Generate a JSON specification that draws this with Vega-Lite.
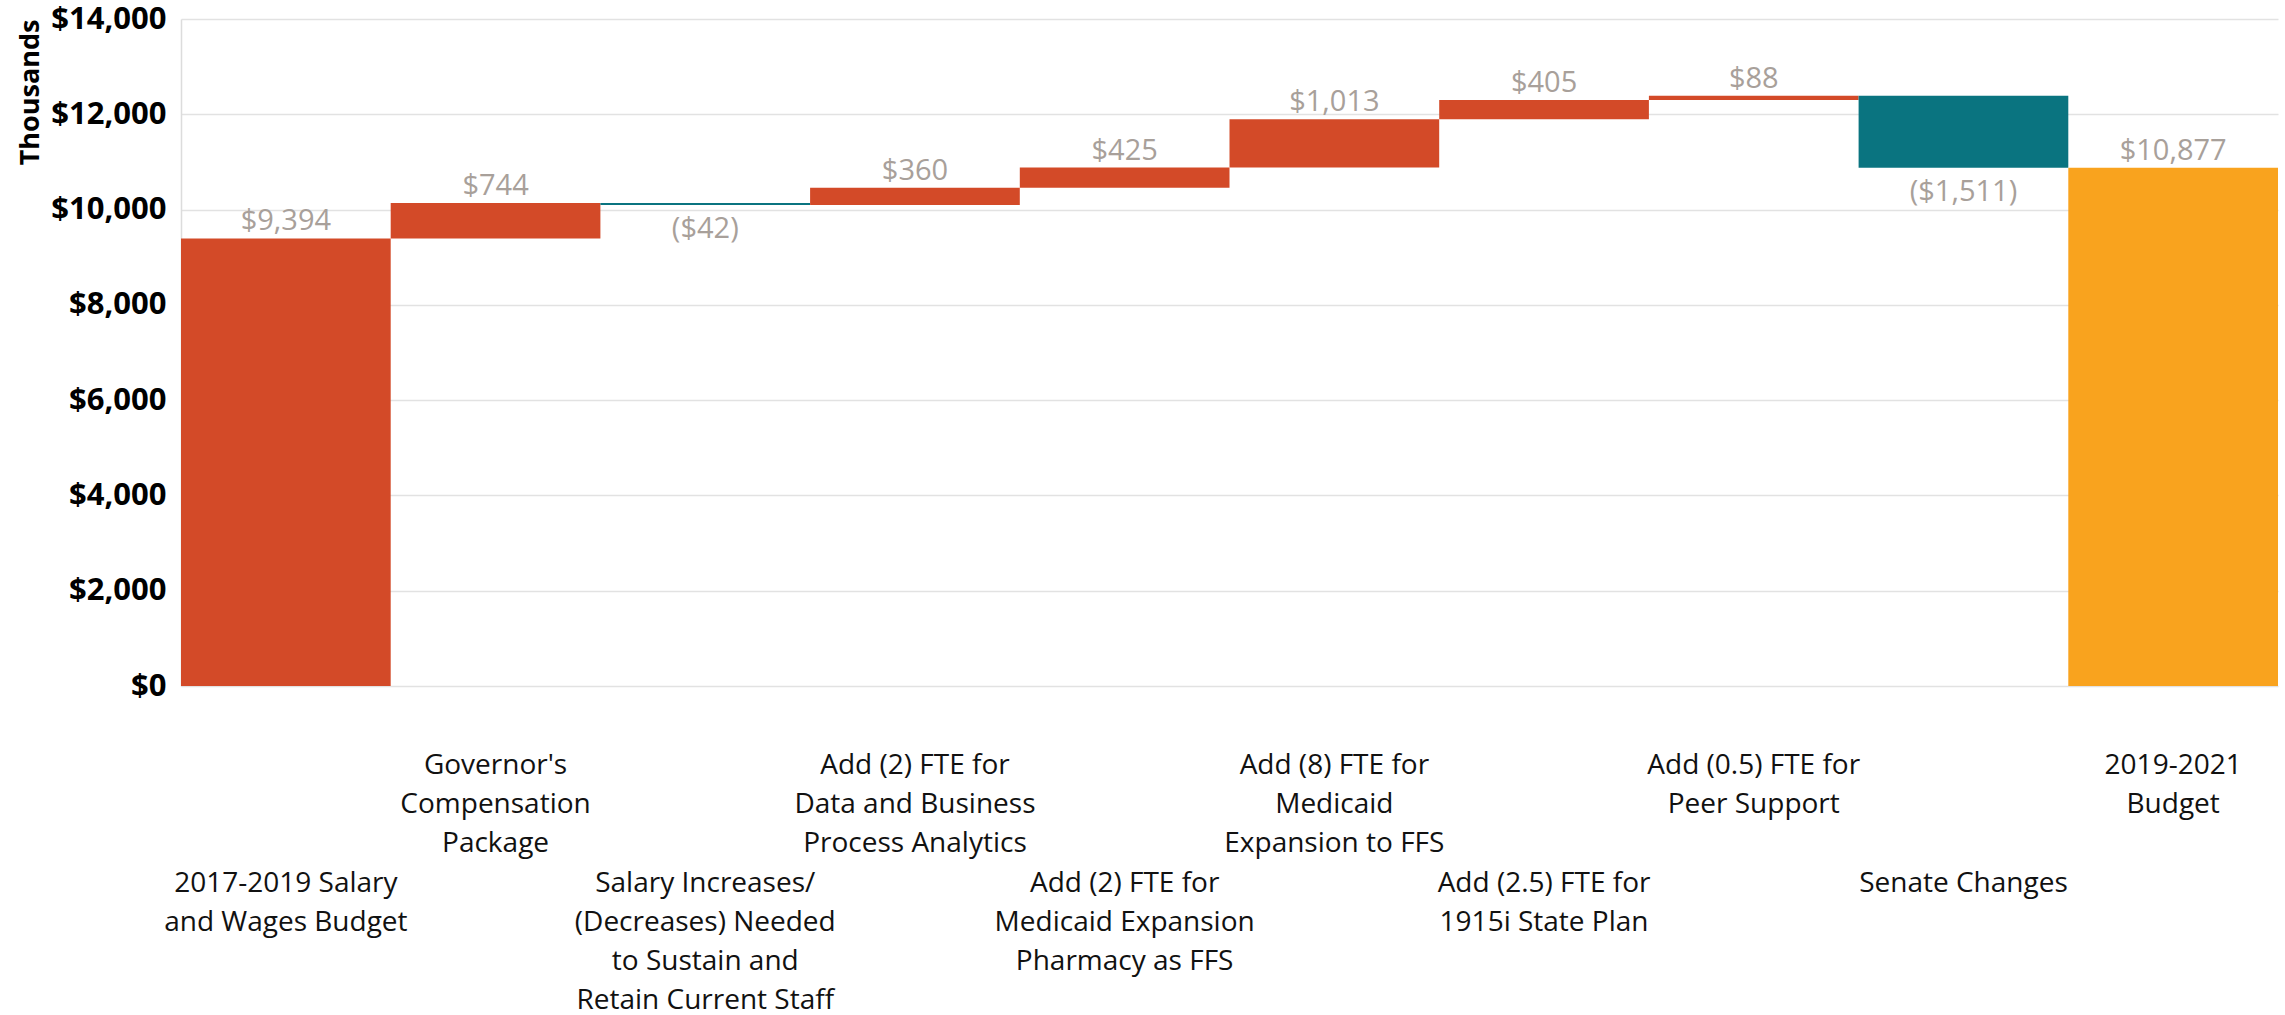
{
  "$schema": "https://vega.github.io/schema/vega-lite/v6.json",
  "width": 2097,
  "height": 667,
  "autosize": {"type": "none"},
  "padding": {"left": 181, "top": 19, "right": 7, "bottom": 329},
  "background": "white",
  "config": {
    "view": {"stroke": null},
    "font": "Open Sans"
  },
  "data": {
    "values": [
      {"cat": "2017-2019 Salary|and Wages Budget", "start": 0, "end": 9394, "label": "$9,394", "kind": "total"},
      {"cat": "Governor's|Compensation|Package", "start": 9394, "end": 10138, "label": "$744", "kind": "increase"},
      {"cat": "Salary Increases/|(Decreases) Needed|to Sustain and|Retain Current Staff", "start": 10138, "end": 10096, "label": "($42)", "kind": "decrease"},
      {"cat": "Add (2) FTE for|Data and Business|Process Analytics", "start": 10096, "end": 10456, "label": "$360", "kind": "increase"},
      {"cat": "Add (2) FTE for|Medicaid Expansion|Pharmacy as FFS", "start": 10456, "end": 10881, "label": "$425", "kind": "increase"},
      {"cat": "Add (8) FTE for|Medicaid|Expansion to FFS", "start": 10881, "end": 11894, "label": "$1,013", "kind": "increase"},
      {"cat": "Add (2.5) FTE for|1915i State Plan", "start": 11894, "end": 12299, "label": "$405", "kind": "increase"},
      {"cat": "Add (0.5) FTE for|Peer Support", "start": 12299, "end": 12387, "label": "$88", "kind": "increase"},
      {"cat": "Senate Changes", "start": 12387, "end": 10876, "label": "($1,511)", "kind": "decrease"},
      {"cat": "2019-2021|Budget", "start": 0, "end": 10877, "label": "$10,877", "kind": "final"}
    ]
  },
  "encoding": {
    "x": {
      "field": "cat",
      "type": "nominal",
      "sort": null,
      "scale": {"paddingInner": 0, "paddingOuter": 0},
      "axis": {
        "title": null,
        "labelAngle": 0,
        "labelAlign": "center",
        "labelBaseline": "top",
        "labelFontSize": 28,
        "labelLineHeight": 39.2,
        "labelColor": "#111111",
        "labelPadding": {"condition": {"test": "round(datum.index * 9) % 2 == 0", "value": 183}, "value": 65},
        "labelLimit": 0,
        "labelOverlap": false,
        "labelBound": false,
        "ticks": false,
        "domain": false,
        "grid": false,
        "labelExpr": "split(datum.value, '|')"
      }
    }
  },
  "layer": [
    {
      "mark": {"type": "bar"},
      "encoding": {
        "y": {
          "field": "start",
          "type": "quantitative",
          "scale": {"domain": [0, 14000], "nice": false},
          "axis": {
            "title": "Thousands",
            "titleFontSize": 27,
            "titleFontWeight": "bold",
            "titleColor": "#000000",
            "titleAnchor": "end",
            "titlePadding": 6,
            "values": [0, 2000, 4000, 6000, 8000, 10000, 12000, 14000],
            "format": "$,.0f",
            "labelFontSize": 31,
            "labelFontWeight": "bold",
            "labelColor": "#000000",
            "labelPadding": 15,
            "ticks": false,
            "domain": true,
            "domainColor": "#dcdcdc",
            "domainWidth": 1.5,
            "grid": true,
            "gridColor": "#e2e2e2",
            "gridWidth": 1.5
          }
        },
        "y2": {"field": "end"},
        "color": {
          "field": "kind",
          "type": "nominal",
          "scale": {
            "domain": ["total", "increase", "decrease", "final"],
            "range": ["#D34A28", "#D34A28", "#0A7480", "#F9A31E"]
          },
          "legend": null
        }
      }
    },
    {
      "transform": [{"filter": "datum.kind != 'decrease'"}],
      "mark": {"type": "text", "baseline": "bottom", "dy": -2, "fontSize": 29, "color": "#A8A09A"},
      "encoding": {
        "y": {"field": "end", "type": "quantitative"},
        "text": {"field": "label"}
      }
    },
    {
      "transform": [{"filter": "datum.kind == 'decrease'"}],
      "mark": {"type": "text", "baseline": "top", "dy": 10, "fontSize": 29, "color": "#A8A09A"},
      "encoding": {
        "y": {"field": "end", "type": "quantitative"},
        "text": {"field": "label"}
      }
    }
  ]
}
